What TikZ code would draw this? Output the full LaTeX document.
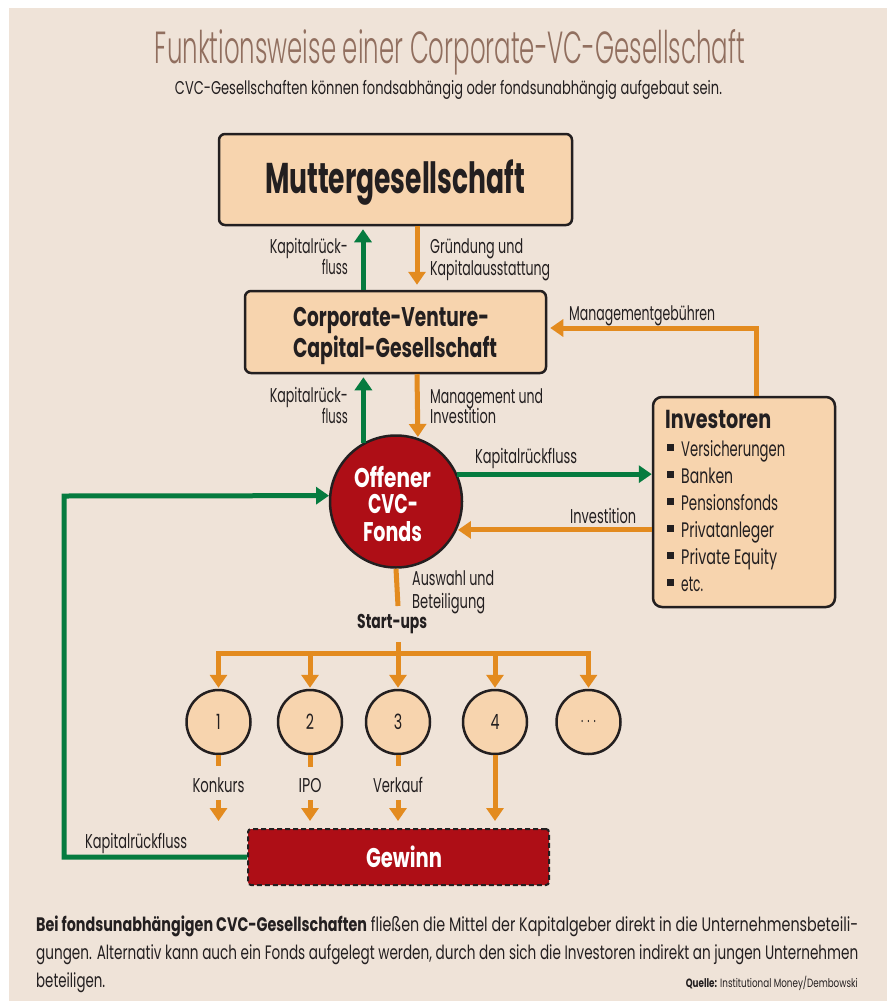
\documentclass[tikz,border=0pt]{standalone}
\usepackage{fontspec}
\usepackage{graphicx}
\setmainfont{Poppins}[FakeStretch=0.68]
\newfontfamily\lightfont{Poppins Light}[FakeStretch=0.6]
\usetikzlibrary{arrows.meta,calc}
\definecolor{bg}{HTML}{EFE3D8}
\definecolor{boxfill}{HTML}{F7D4AE}
\definecolor{orng}{HTML}{E38B1F}
\definecolor{grn}{HTML}{057B3F}
\definecolor{cvcred}{HTML}{AE0E16}
\definecolor{titlec}{HTML}{916F5F}
\definecolor{ink}{HTML}{231F20}
\newcommand{\W}[2]{\resizebox{#1}{\height}{#2}}
\begin{document}
\begin{tikzpicture}[x=1pt,y=-1pt,
  box/.style={draw=ink, line width=2.5pt, fill=boxfill, rounded corners=6pt, inner sep=0pt},
  lbl/.style={inner sep=0pt, text=ink, font=\fontsize{20}{21}\selectfont},
  blbl/.style={inner sep=0pt, text=ink, font=\bfseries\fontsize{20}{21}\selectfont},
  wlbl/.style={inner sep=0pt, text=white, font=\bfseries\fontsize{27}{27}\selectfont, anchor=base},
  item/.style={inner sep=0pt, text=ink, font=\fontsize{21}{21}\selectfont, anchor=base west},
  garrow/.style={draw=grn, line width=5pt, -{Triangle[width=17pt,length=13pt]}},
  oarrow/.style={draw=orng, line width=5pt, -{Triangle[width=17pt,length=13pt]}},
  oline/.style={draw=orng, line width=5pt},
  su/.style={circle, draw=ink, line width=2.5pt, fill=boxfill, minimum size=64pt, inner sep=0pt, text=ink, font=\fontsize{21}{21}\selectfont},
]
\fill[white] (0,0) rectangle (887,1001);
\fill[bg] (9,8) rectangle (887,1001);
\useasboundingbox (0,0) rectangle (887,1001);

% title
\node[anchor=base, inner sep=0pt, text=titlec, font=\lightfont\fontsize{45}{45}\selectfont] (title) at (450,63) {\W{590pt}{Funktionsweise einer Corporate-VC-Gesellschaft}};
\node[anchor=base, inner sep=0pt, text=ink, font=\fontsize{18.5}{18.5}\selectfont] (sub) at (448.5,94) {\W{547pt}{CVC-Gesellschaften können fondsabhängig oder fondsunabhängig aufgebaut sein.}};

% boxes
\node[box, minimum width=353pt, minimum height=91pt] (mutter) at (395.5,179.5) {};
\node[anchor=base, inner sep=0pt, text=ink, font=\bfseries\fontsize{43}{43}\selectfont] (muttertxt) at (395,193) {\W{260pt}{Muttergesellschaft}};

\node[box, minimum width=301pt, minimum height=82pt] (cvc) at (395.5,332) {};
\node[anchor=base, inner sep=0pt, text=ink, font=\bfseries\fontsize{27}{27}\selectfont] (cvctxta) at (391,326) {\W{196pt}{Corporate-Venture-}};
\node[anchor=base, inner sep=0pt, text=ink, font=\bfseries\fontsize{27}{27}\selectfont] (cvctxtb) at (395,357) {\W{204pt}{Capital-Gesellschaft}};

\node[circle, draw=ink, line width=2.5pt, fill=cvcred, minimum size=132pt, inner sep=0pt] (fonds) at (396,501.5) {};
\node[wlbl] (fa) at (392.5,487) {\W{77pt}{Offener}};
\node[wlbl] (fb) at (393,513) {\W{50pt}{CVC-}};
\node[wlbl] (fc) at (392.5,541) {\W{59pt}{Fonds}};

\node[box, rounded corners=9pt, minimum width=182pt, minimum height=210pt] (inv) at (744,502) {};
\node[anchor=base west, inner sep=0pt, text=ink, font=\bfseries\fontsize{26}{26}\selectfont] (invt) at (665,428) {\W{106pt}{Investoren}};
\node[item] (i1) at (667,456) {\rule[5pt]{6.5pt}{7.5pt}\hspace{7.5pt}\W{104pt}{Versicherungen}};
\node[item] (i2) at (667,483) {\rule[5pt]{6.5pt}{7.5pt}\hspace{7.5pt}\W{52pt}{Banken}};
\node[item] (i3) at (667,510) {\rule[5pt]{6.5pt}{7.5pt}\hspace{7.5pt}\W{97pt}{Pensionsfonds}};
\node[item] (i4) at (667,537) {\rule[5pt]{6.5pt}{7.5pt}\hspace{7.5pt}\W{93pt}{Privatanleger}};
\node[item] (i5) at (667,564) {\rule[5pt]{6.5pt}{7.5pt}\hspace{7.5pt}\W{96pt}{Private Equity}};
\node[item] (i6) at (667,591) {\rule[5pt]{6.5pt}{7.5pt}\hspace{7.5pt}\W{22pt}{etc.}};

\node[draw=ink, dash pattern=on 5pt off 3pt, line width=2pt, fill=cvcred, rounded corners=3pt, minimum width=301pt, minimum height=56pt, inner sep=0pt] (gew) at (398.5,857) {};
\node[wlbl] (gewt) at (404,867) {\W{76pt}{Gewinn}};

% start-up circles
\node[su] (s1) at (218.5,722) {1};
\node[su] (s2) at (310,722) {2};
\node[su] (s3) at (398,722) {3};
\node[su] (s4) at (495,722) {4};
\node[su, font=\lightfont\fontsize{21}{21}\selectfont] (s5) at (588.5,722) {.\hspace{4pt}.\hspace{4pt}.};

% labels
\node[lbl, anchor=base east] (kr1a) at (348,253) {\W{78pt}{Kapitalrück-}};
\node[lbl, anchor=base east] (kr1b) at (348,274) {\W{26pt}{fluss}};
\node[lbl, anchor=base west] (gr1) at (430,253) {\W{93pt}{Gründung und}};
\node[lbl, anchor=base west] (gr2) at (430,275) {\W{120pt}{Kapitalausstattung}};
\node[lbl, anchor=base east] (kr2a) at (348,402) {\W{78pt}{Kapitalrück-}};
\node[lbl, anchor=base east] (kr2b) at (348,423) {\W{26pt}{fluss}};
\node[lbl, anchor=base west] (mi1) at (430,403) {\W{113pt}{Management und}};
\node[lbl, anchor=base west] (mi2) at (430,423) {\W{66pt}{Investition}};
\node[lbl, anchor=base west] (mg) at (569,320) {\W{146pt}{Managementgebühren}};
\node[lbl, anchor=base west] (krr) at (475,463) {\W{102pt}{Kapitalrückfluss}};
\node[lbl, anchor=base west] (ivl) at (570,523) {\W{66pt}{Investition}};
\node[lbl, anchor=base west] (aw1) at (412,585) {\W{82pt}{Auswahl und}};
\node[lbl, anchor=base west] (aw2) at (412,608) {\W{73pt}{Beteiligung}};
\node[blbl, anchor=base west] (stu) at (357,628) {\W{70pt}{Start-ups}};
\node[lbl, anchor=base] (kon) at (218.5,792) {\W{52pt}{Konkurs}};
\node[lbl, anchor=base] (ipo) at (310,792) {\W{23pt}{IPO}};
\node[lbl, anchor=base] (verk) at (398,792) {\W{50pt}{Verkauf}};
\node[lbl, anchor=base west] (krl) at (85,848) {\W{102pt}{Kapitalrückfluss}};

% connectors
\draw[garrow, shorten >=3pt] ([xshift=-32.5pt]cvc.north) -- ([xshift=-32.5pt]mutter.south);
\draw[oarrow, shorten >=5pt] ([xshift=21.5pt]mutter.south) -- ([xshift=21.5pt]cvc.north);
\draw[garrow, shorten >=3pt] (fonds.119.5) -- (fonds.119.5 |- cvc.south);
\draw[oarrow, shorten >=1pt] ([xshift=21.5pt]cvc.south) -- (fonds.71.7);
\draw[oarrow, shorten >=3pt] ([xshift=12pt]inv.north) |- ([yshift=4pt]cvc.east);
\draw[garrow] (fonds.24.2) -- (fonds.24.2 -| inv.west);
\draw[oarrow, shorten >=1pt] (inv.west |- fonds.-25.2) -- (fonds.-25.2);

\coordinate (selend) at (398,606);
\coordinate (hub) at (398,642);
\coordinate (busy) at (398,653);
\draw[oline] (fonds.south) -- (selend);
\draw[oarrow, shorten >=1pt] (hub) -- (busy) -| (s1.north);
\draw[oarrow, shorten >=1pt] (hub) -- (busy) -| (s5.north);
\draw[oarrow, shorten >=1pt] (s2.north |- busy) -- (s2.north);
\draw[oarrow, shorten >=1pt] (hub) -- (s3.north);
\draw[oarrow, shorten >=1pt] (s4.north |- busy) -- (s4.north);

\draw[oline, shorten >=11pt] (s1.south) -- (kon.north);
\draw[oline, shorten >=11pt] (s2.south) -- (ipo.north);
\draw[oline, shorten >=11pt] (s3.south) -- (verk.north);
\draw[oarrow, shorten <=8pt, shorten >=7pt] (kon.south) -- (kon.south |- gew.north);
\draw[oarrow, shorten <=8pt, shorten >=7pt] (ipo.south) -- (ipo.south |- gew.north);
\draw[oarrow, shorten <=8pt, shorten >=7pt] (verk.south) -- (verk.south |- gew.north);
\draw[oarrow, shorten >=7pt] (s4.south) -- (s4.south |- gew.north);

\coordinate (lcorner) at (64,496);
\draw[garrow] (gew.west) -| (lcorner) -- (fonds.175.3);

% bottom text
\node[anchor=base west, inner sep=0pt, text=ink, font=\fontsize{19.5}{19.5}\selectfont] (b1) at (36,931) {\W{822pt}{\textbf{Bei fondsunabhängigen CVC-Gesellschaften} fließen die Mittel der Kapitalgeber direkt in die Unternehmensbeteili-}};
\node[anchor=base west, inner sep=0pt, text=ink, font=\fontsize{19.5}{19.5}\selectfont] (b2) at (36,959) {\W{822pt}{gungen. Alternativ kann auch ein Fonds aufgelegt werden, durch den sich die Investoren indirekt an jungen Unternehmen}};
\node[anchor=base west, inner sep=0pt, text=ink, font=\fontsize{19.5}{19.5}\selectfont] (b3) at (36,987) {\W{69pt}{beteiligen.}};
\node[anchor=base east, inner sep=0pt, text=ink, font=\fontsize{12}{12}\selectfont] (src) at (858,987) {\W{172pt}{\textbf{Quelle:} Institutional Money/Dembowski}};
\end{tikzpicture}
\end{document}
